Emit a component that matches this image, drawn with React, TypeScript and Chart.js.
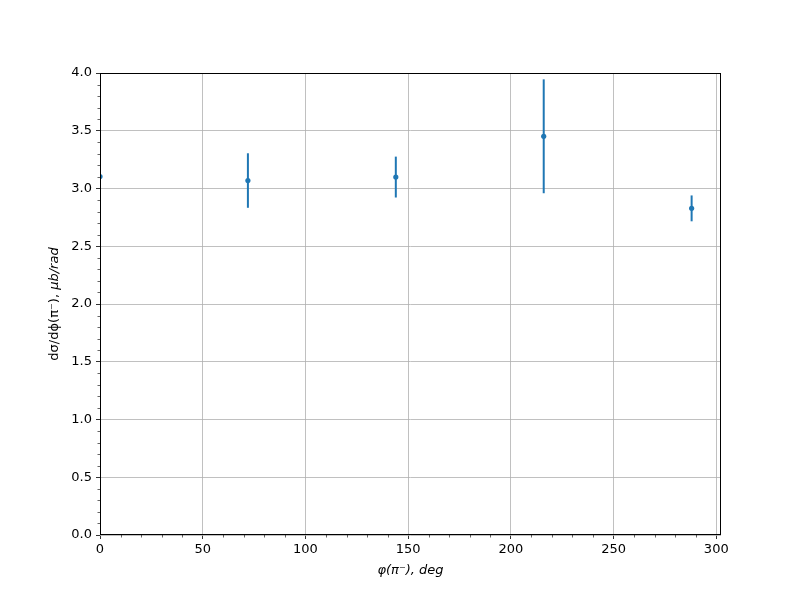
import React, { useEffect, useRef } from "react";
import { Chart, registerables } from "chart.js";

Chart.register(...registerables);

const phiDeg = [0, 72, 144, 216, 288];
const dSigma = [3.104, 3.069, 3.099, 3.452, 2.828];
const dSigmaErr = [0.012, 0.236, 0.177, 0.493, 0.112];
const xTicks = [0, 50, 100, 150, 200, 250, 300];
const yTicks = [0, 0.5, 1, 1.5, 2, 2.5, 3, 3.5, 4];

const FONT = "'DejaVu Sans', sans-serif";
const BLUE = "#1f77b4";

const decorPlugin = {
  id: "decor",
  beforeDatasetsDraw(chart: any) {
    const { ctx, chartArea, scales } = chart;
    const xs = scales.x;
    const ys = scales.y;
    ctx.save();
    ctx.beginPath();
    ctx.rect(chartArea.left, chartArea.top, chartArea.right - chartArea.left, chartArea.bottom - chartArea.top);
    ctx.clip();
    ctx.strokeStyle = BLUE;
    ctx.lineWidth = 2;
    for (let i = 0; i < phiDeg.length; i++) {
      const px = xs.getPixelForValue(phiDeg[i]);
      const y1 = ys.getPixelForValue(dSigma[i] + dSigmaErr[i]);
      const y2 = ys.getPixelForValue(dSigma[i] - dSigmaErr[i]);
      ctx.beginPath();
      ctx.moveTo(px, y1);
      ctx.lineTo(px, y2);
      ctx.stroke();
    }
    ctx.restore();
  },
  afterDraw(chart: any) {
    const { ctx, chartArea, scales } = chart;
    const xs = scales.x;
    const ys = scales.y;
    const { left, right, top, bottom } = chartArea;
    ctx.save();
    ctx.strokeStyle = "#000";
    ctx.lineWidth = 0.6;
    for (let v = 10; v <= 300; v += 10) {
      if (v % 50 === 0) continue;
      const px = Math.round(xs.getPixelForValue(v)) + 0.5;
      ctx.beginPath();
      ctx.moveTo(px, bottom);
      ctx.lineTo(px, bottom + 2.5);
      ctx.stroke();
    }
    for (let k = 1; k < 40; k++) {
      if (k % 5 === 0) continue;
      const py = Math.round(ys.getPixelForValue(k / 10)) + 0.5;
      ctx.beginPath();
      ctx.moveTo(left, py);
      ctx.lineTo(left - 2.5, py);
      ctx.stroke();
    }
    ctx.lineWidth = 1;
    ctx.strokeStyle = "#000";
    ctx.strokeRect(left + 0.5, top + 0.5, right - left - 1, bottom - top - 1);
    ctx.fillStyle = "#000";
    ctx.textBaseline = "middle";
    ctx.textAlign = "center";
    ctx.font = `italic 13px ${FONT}`;
    ctx.fillText("φ(π⁻), deg", (left + right) / 2, 571);
    const partA = "dσ/dϕ(π⁻), ";
    const partB = "μb/rad";
    ctx.font = `13px ${FONT}`;
    const wA = ctx.measureText(partA).width;
    ctx.font = `italic 13px ${FONT}`;
    const wB = ctx.measureText(partB).width;
    const total = wA + wB;
    ctx.translate(55, (top + bottom) / 2);
    ctx.rotate(-Math.PI / 2);
    ctx.textAlign = "left";
    ctx.font = `13px ${FONT}`;
    ctx.fillText(partA, -total / 2, 0);
    ctx.font = `italic 13px ${FONT}`;
    ctx.fillText(partB, -total / 2 + wA, 0);
    ctx.restore();
  },
};

export default function App() {
  const ref = useRef<HTMLCanvasElement | null>(null);
  useEffect(() => {
    document.body.style.margin = "0";
    const canvas = ref.current;
    if (!canvas) return;
    const chart = new Chart(canvas, {
      type: "scatter",
      data: {
        datasets: [
          {
            data: phiDeg.map((x, i) => ({ x, y: dSigma[i] })),
            backgroundColor: BLUE,
            borderColor: BLUE,
            pointRadius: 2.6,
            pointBorderWidth: 0,
            clip: 0,
          } as any,
        ],
      },
      options: {
        responsive: false,
        animation: false,
        events: [],
        layout: { padding: { left: 0, right: 79, top: 73, bottom: 0 } },
        plugins: { legend: { display: false }, tooltip: { enabled: false } },
        scales: {
          x: {
            type: "linear",
            min: 0,
            max: 302.3,
            afterBuildTicks: (axis: any) => {
              axis.ticks = xTicks.map((v) => ({ value: v }));
            },
            afterFit: (axis: any) => {
              axis.height = 65;
            },
            ticks: {
              font: { family: FONT, size: 13 },
              color: "#000",
              padding: 3,
              maxRotation: 0,
              callback: (v: any) => String(v),
            },
            grid: { color: "#b0b0b0", lineWidth: 0.8, tickColor: "#000", tickLength: 4, tickWidth: 0.8 },
            border: { display: false },
          },
          y: {
            type: "linear",
            min: 0,
            max: 4,
            afterBuildTicks: (axis: any) => {
              axis.ticks = yTicks.map((v) => ({ value: v }));
            },
            afterFit: (axis: any) => {
              axis.width = 100;
            },
            ticks: {
              font: { family: FONT, size: 13 },
              color: "#000",
              padding: 4,
              callback: (v: any) => Number(v).toFixed(1),
            },
            grid: { color: "#b0b0b0", lineWidth: 0.8, tickColor: "#000", tickLength: 4, tickWidth: 0.8 },
            border: { display: false },
          },
        },
      },
      plugins: [decorPlugin],
    });
    return () => chart.destroy();
  }, []);
  return <canvas ref={ref} width={800} height={600} style={{ display: "block" }} />;
}
